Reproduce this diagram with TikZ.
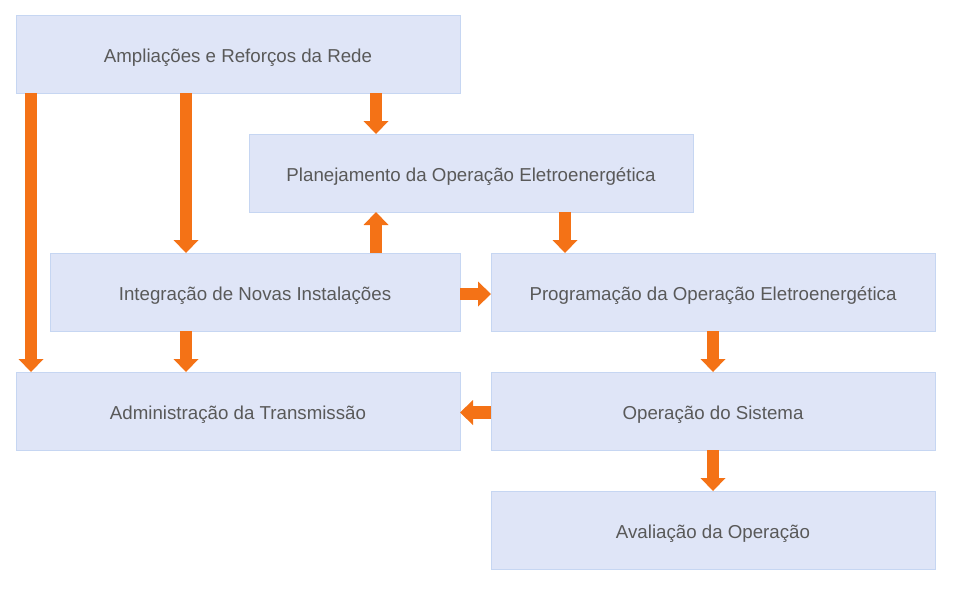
\documentclass[tikz,border=0pt]{standalone}
\usepackage{fontspec}
\setmainfont{Liberation Sans}
\usetikzlibrary{arrows.meta}
\definecolor{boxfill}{HTML}{DFE5F7}
\definecolor{boxline}{HTML}{C6D6F2}
\definecolor{arroworange}{HTML}{F47216}
\definecolor{textgray}{HTML}{595959}
\tikzset{
  box/.style={draw=boxline, fill=boxfill, line width=1pt, minimum height=78pt,
    minimum width=444pt, inner sep=0pt, outer sep=0pt, text=textgray,
    text height=17pt, text depth=0pt,
    font=\fontsize{18.7}{22}\selectfont},
  fat/.style={draw=arroworange, line width=12.5pt,
    -{Triangle[width=25pt,length=13pt,line width=0pt]}}
}
\begin{document}
\begin{tikzpicture}[x=1pt,y=-1pt]
\useasboundingbox (0,0) rectangle (976,590);
\node[box] (A) at (238,54) {Ampliações e Reforços da Rede};
\node[box] (P) at (471,173) {Planejamento da Operação Eletroenergética};
\node[box, minimum width=410pt] (I) at (255,292) {Integração de Novas Instalações};
\node[box] (G) at (713,292) {Programação da Operação Eletroenergética};
\node[box] (D) at (238,411) {Administração da Transmissão};
\node[box] (O) at (713,411) {Operação do Sistema};
\node[box] (V) at (713,530) {Avaliação da Operação};
\coordinate (x1) at (31,0);
\coordinate (x2) at (186,0);
\coordinate (x3) at (376,0);
\coordinate (x4) at (565,0);
\coordinate (x5) at (713,0);
\coordinate (y1) at (0,294);
\coordinate (y2) at (0,412.5);
\draw[fat] (A.south -| x1) -- (D.north -| x1);
\draw[fat] (A.south -| x2) -- (I.north -| x2);
\draw[fat] (A.south -| x3) -- (P.north -| x3);
\draw[fat] (I.north -| x3) -- (P.south -| x3);
\draw[fat] (P.south -| x4) -- (G.north -| x4);
\draw[fat] (I.east |- y1) -- (G.west |- y1);
\draw[fat] (I.south -| x2) -- (D.north -| x2);
\draw[fat] (G.south -| x5) -- (O.north -| x5);
\draw[fat] (O.west |- y2) -- (D.east |- y2);
\draw[fat] (O.south -| x5) -- (V.north -| x5);
\end{tikzpicture}
\end{document}
